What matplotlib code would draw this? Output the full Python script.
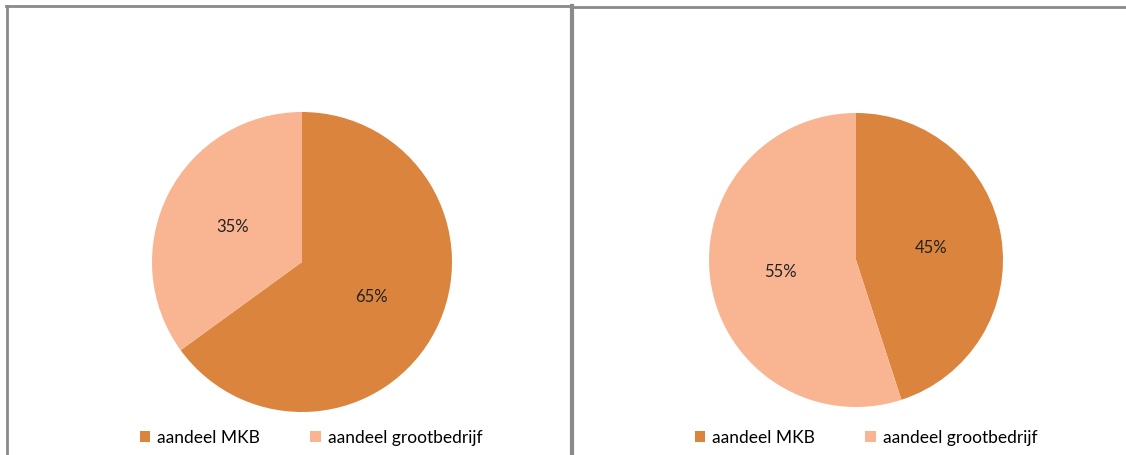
import matplotlib
matplotlib.use("Agg")
import matplotlib.pyplot as plt
from matplotlib.lines import Line2D
from matplotlib.patches import Patch

categories = ["aandeel MKB", "aandeel grootbedrijf"]
left_values = [65, 35]
right_values = [45, 55]
colors = ["#DB843D", "#F9B591"]

plt.rcParams["font.family"] = ["Lato", "DejaVu Sans"]

W, H = 1126, 455
fig = plt.figure(figsize=(W / 100, H / 100), dpi=100)


def px_axes(cx, cy, r):
    # cx, cy, r in pixels, cy measured from top
    return fig.add_axes([(cx - r) / W, (H - cy - r) / H, 2 * r / W, 2 * r / H])


def draw_pie(ax, values):
    ax.pie(values, colors=colors, startangle=90, counterclock=False,
           autopct=lambda p: "%d%%" % round(p), pctdistance=0.52,
           textprops={"fontsize": 12, "color": "#222222"},
           wedgeprops={"linewidth": 0})
    ax.set_xlim(-1, 1)
    ax.set_ylim(-1, 1)
    ax.set_aspect("equal")
    ax.axis("off")


ax1 = px_axes(302, 262, 150)
draw_pie(ax1, left_values)
ax2 = px_axes(856, 260, 147)
draw_pie(ax2, right_values)

# panel borders
gray = "#8a8a8a"
def line(x0, y0, x1, y1, lw):
    fig.add_artist(Line2D([x0 / W, x1 / W], [1 - y0 / H, 1 - y1 / H],
                          color=gray, linewidth=lw, transform=fig.transFigure))

line(7, 6, 7, H, 2)
line(6, 6, 572, 6, 2)
line(572, 6, 572, H, 3)
line(572, 7, W, 7, 2)

handles = [Patch(facecolor=c, edgecolor="none") for c in colors]
for cx in (311, 866):
    fig.legend(handles, categories, loc="center", bbox_to_anchor=(cx / W, 1 - 438 / H),
               ncol=2, frameon=False, fontsize=12.5, handlelength=0.6, handleheight=0.6,
               handletextpad=0.4, columnspacing=2.9)

fig.savefig("out.png", dpi=100)
